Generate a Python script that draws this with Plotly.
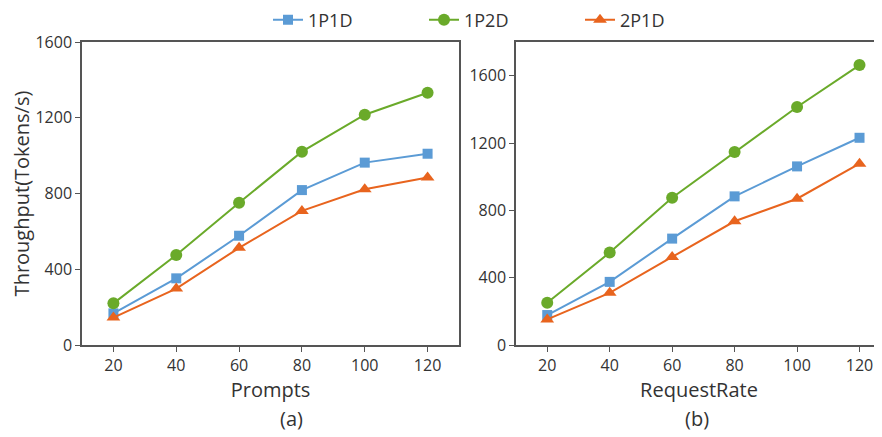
import plotly.graph_objects as go
from plotly.subplots import make_subplots

x_vals = [20, 40, 60, 80, 100, 120]
series_names = ["1P1D", "1P2D", "2P1D"]
a_1p1d = [167, 352, 577, 818, 963, 1010]
a_1p2d = [220, 475, 751, 1021, 1216, 1332]
a_2p1d = [145, 298, 513, 708, 822, 885]
b_1p1d = [178, 375, 632, 883, 1061, 1231]
b_1p2d = [251, 549, 875, 1146, 1414, 1663]
b_2p1d = [152, 310, 523, 735, 869, 1077]
y_ticks_a = [0, 400, 800, 1200, 1600]
y_ticks_b = [0, 400, 800, 1200, 1600]

colors = ["#5B9BD5", "#6AAA2A", "#E8641E"]
symbols = ["square", "circle", "triangle-up"]
sizes = [10, 12, 12]

fig = make_subplots(rows=1, cols=2)
fig.update_layout(
    xaxis=dict(domain=[0, 0.47125]),
    xaxis2=dict(domain=[0.5425, 1.0]),
)

for i, (name, ya, yb) in enumerate(zip(series_names, [a_1p1d, a_1p2d, a_2p1d], [b_1p1d, b_1p2d, b_2p1d])):
    fig.add_trace(go.Scatter(x=x_vals, y=ya, name=name, mode="lines+markers",
                             line=dict(color=colors[i], width=2),
                             marker=dict(symbol=symbols[i], size=sizes[i], color=colors[i]),
                             legendgroup=name), row=1, col=1)
    fig.add_trace(go.Scatter(x=x_vals, y=yb, name=name, mode="lines+markers",
                             line=dict(color=colors[i], width=2),
                             marker=dict(symbol=symbols[i], size=sizes[i], color=colors[i]),
                             legendgroup=name, showlegend=False), row=1, col=2)

font_family = "Open Sans, Noto Sans, sans-serif"
axis_common = dict(showgrid=False, zeroline=False, showline=True, linecolor="#555555",
                   linewidth=1.5, ticks="outside", ticklen=5, tickcolor="#555555",
                   automargin=False,
                   tickfont=dict(size=16, color="#333333", family=font_family))
title_font = dict(size=20, color="#333333", family=font_family)

fig.update_xaxes(**axis_common, tickvals=x_vals, range=[10, 130], mirror=True,
                 title=dict(text="Prompts", font=title_font, standoff=6),
                 row=1, col=1)
fig.update_yaxes(**axis_common, tickvals=y_ticks_a, range=[0, 1600], mirror=True,
                 title=dict(text="Throughput(Tokens/s)", font=title_font, standoff=10),
                 row=1, col=1)
fig.update_xaxes(**axis_common, tickvals=x_vals, range=[10, 127.2], mirror=True,
                 title=dict(text="RequestRate", font=title_font, standoff=6),
                 row=1, col=2)
fig.update_yaxes(**axis_common, tickvals=y_ticks_b, range=[0, 1800], mirror=False,
                 row=1, col=2)

fig.add_annotation(text="(a)", x=0.2456, y=-0.241, xref="paper", yref="paper",
                   yanchor="middle", showarrow=False, font=title_font)
fig.add_annotation(text="(b)", x=0.7863, y=-0.241, xref="paper", yref="paper",
                   yanchor="middle", showarrow=False, font=title_font)

fig.update_layout(
    width=874, height=429,
    margin=dict(l=74, r=0, t=34, b=92, autoexpand=False),
    paper_bgcolor="white", plot_bgcolor="white",
    font=dict(family=font_family, color="#333333"),
    legend=dict(orientation="h", x=0.525, xanchor="center", y=1.0726, yanchor="middle",
                entrywidth=111, entrywidthmode="pixels",
                font=dict(size=18, color="#333333")),
)

fig.write_html("out.html")
